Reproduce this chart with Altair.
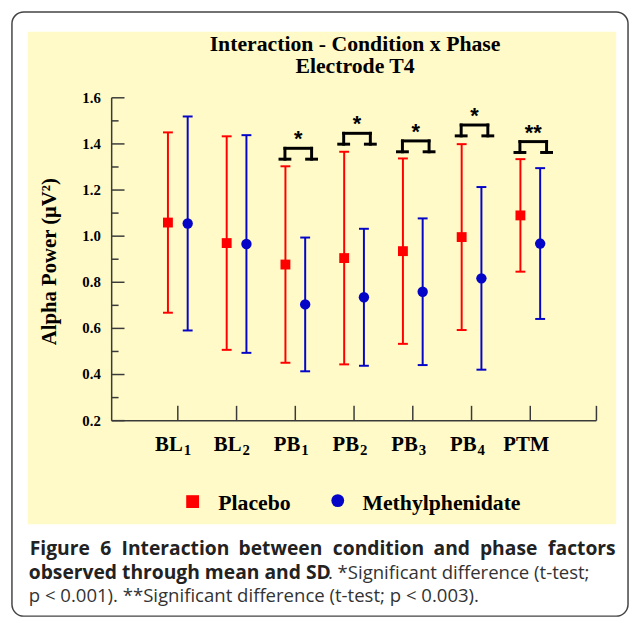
import altair as alt
import pandas as pd

# ---------------- data ----------------
phase_main = ["BL", "BL", "PB", "PB", "PB", "PB", "PTM"]
phase_sub = ["1", "2", "1", "2", "3", "4", ""]
conditions = ["Placebo", "Methylphenidate"]
cond_colors = ["#FF0000", "#0505C8"]

placebo_mean = [1.059, 0.970, 0.877, 0.905, 0.935, 0.996, 1.090]
placebo_sd = [0.391, 0.463, 0.426, 0.461, 0.402, 0.403, 0.244]
mph_mean = [1.055, 0.966, 0.704, 0.735, 0.759, 0.817, 0.968]
mph_sd = [0.464, 0.472, 0.290, 0.297, 0.318, 0.396, 0.327]

sig_index = [2, 3, 4, 5, 6]
sig_marks = ["*", "*", "*", "*", "**"]
bracket_top = [1.381, 1.446, 1.413, 1.482, 1.410]

y_major = [0.2, 0.4, 0.6, 0.8, 1.0, 1.2, 1.4, 1.6]
y_minor = [0.3, 0.5, 0.7, 0.9, 1.1, 1.3, 1.5]

title_text = "Interaction - Condition x Phase\nElectrode T4"
y_title = "Alpha Power (\u03bcV\u00b2)"
cap1_words = ["Figure", "6", "Interaction", "between", "condition", "and", "phase", "factors"]
cap2_bold = "observed through mean and SD"
cap2_reg = ". *Significant difference (t-test;"
cap3 = "p < 0.001). **Significant difference (t-test; p < 0.003)."

# justified word starts of caption line 1 (page px)
cap1_word_left = [30, 101.5, 123, 241.5, 337, 439, 486, 555]

# ---------------- geometry helpers ----------------
W, H = 491, 327
X0, X1 = -1.126, 7.126
Y0, Y1 = 0.2, 1.6
PXX = W / (X1 - X0)
PXY = H / (Y1 - Y0)
LEFT, TOP = 105, 87  # padding => page coordinates offset 8 more
PAGE_X = LEFT + 8


def ux(px):
    return px / PXX


def uy(px):
    return px / PXY


n = len(phase_main)
rows = []
for i in range(n):
    for cond, means, sds, off in (("Placebo", placebo_mean, placebo_sd, -10),
                                  ("Methylphenidate", mph_mean, mph_sd, 10)):
        xc = i + ux(off)
        rows.append(dict(cond=cond, x=xc, xl=xc - ux(5), xr=xc + ux(5),
                         mean=means[i], lo=means[i] - sds[i], hi=means[i] + sds[i]))
df = pd.DataFrame(rows)

seg = []
stars = []
leg_h = uy(11)
for k, i in enumerate(sig_index):
    c = i + ux(3)
    t = bracket_top[k]
    a, b = c - ux(13.5), c + ux(13.5)
    seg.append(dict(x=a, x2=b, y=t, y2=t))
    for leg in (a, b):
        seg.append(dict(x=leg, x2=leg, y=t, y2=t - leg_h))
        seg.append(dict(x=leg - ux(5), x2=leg + ux(5), y=t - leg_h, y2=t - leg_h))
    stars.append(dict(x=c, y=t, s=sig_marks[k]))
seg_df = pd.DataFrame(seg)
star_df = pd.DataFrame(stars)

lab_df = pd.DataFrame(dict(i=list(range(n)), main=phase_main, sub=phase_sub))
lab_df["xa"] = lab_df["i"] + ux(5)
lab_df["xc"] = lab_df["i"] + ux(-4)

xt_df = pd.DataFrame(dict(v=list(range(n)) + [X1]))
ymaj_df = pd.DataFrame(dict(v=y_major))
ymin_df = pd.DataFrame(dict(v=y_minor))
one = pd.DataFrame(dict(a=[0]))

xs = alt.Scale(domain=[X0, X1], nice=False, zero=False)
ys = alt.Scale(domain=[Y0, Y1], nice=False, zero=False)
cs = alt.Scale(domain=conditions, range=cond_colors)

SERIF = "Liberation Serif"
SANS = "Open Sans"
AX = "#3a3a3a"

# ---------------- frame ----------------
border = alt.Chart(one).mark_rect(fill="white", stroke="#444", strokeWidth=1.5,
                                  cornerRadius=12).encode(
    x=alt.value(-101), x2=alt.value(523), y=alt.value(-87), y2=alt.value(525))
panel = alt.Chart(one).mark_rect(fill="#FFFAC8").encode(
    x=alt.value(-85), x2=alt.value(511), y=alt.value(-67), y2=alt.value(432))

# ---------------- axes ----------------
yline = alt.Chart(one).mark_rule(color=AX, strokeWidth=1.5).encode(
    x=alt.value(0), y=alt.value(0), y2=alt.value(H))
xline = alt.Chart(one).mark_rule(color=AX, strokeWidth=1.5).encode(
    x=alt.value(0), x2=alt.value(W), y=alt.value(H))
ymaj = alt.Chart(ymaj_df).mark_rule(color=AX, strokeWidth=1.5).encode(
    y=alt.Y("v:Q", scale=ys, axis=None), x=alt.value(0), x2=alt.value(13))
ymin = alt.Chart(ymin_df).mark_rule(color=AX, strokeWidth=1.5).encode(
    y=alt.Y("v:Q", scale=ys, axis=None), x=alt.value(0), x2=alt.value(7))
ylab = alt.Chart(ymaj_df).mark_text(align="right", baseline="middle", font=SERIF,
                                    fontWeight="bold", fontSize=15, color="black").encode(
    y=alt.Y("v:Q", scale=ys, axis=None), x=alt.value(-11),
    text=alt.Text("v:Q", format=".1f"))
xticks = alt.Chart(xt_df).mark_rule(color=AX, strokeWidth=1.5).encode(
    x=alt.X("v:Q", scale=xs, axis=None), y=alt.value(H), y2=alt.value(H - 15))

lab_sub = alt.Chart(lab_df).transform_filter("datum.sub != ''")
xlab_main = lab_sub.mark_text(align="right", baseline="alphabetic", font=SERIF,
                              fontWeight="bold", fontSize=21, color="black").encode(
    x=alt.X("xa:Q", scale=xs, axis=None), y=alt.value(358), text="main:N")
xlab_sub = lab_sub.mark_text(align="left", baseline="alphabetic", font=SERIF,
                             fontWeight="bold", fontSize=15, color="black", dx=1).encode(
    x=alt.X("xa:Q", scale=xs, axis=None), y=alt.value(362), text="sub:N")
xlab_c = alt.Chart(lab_df).transform_filter("datum.sub == ''").mark_text(
    align="center", baseline="alphabetic", font=SERIF, fontWeight="bold",
    fontSize=21, color="black").encode(
    x=alt.X("xc:Q", scale=xs, axis=None), y=alt.value(358), text="main:N")

ytitle = alt.Chart(one).mark_text(angle=270, align="center", baseline="middle",
                                  font=SERIF, fontWeight="bold", fontSize=21,
                                  color="black").encode(
    x=alt.value(-62), y=alt.value(166), text=alt.value(y_title))
title = alt.Chart(one).mark_text(align="center", baseline="alphabetic", font=SERIF,
                                 fontWeight="bold", fontSize=22, lineBreak="\n",
                                 lineHeight=22, color="black").encode(
    x=alt.value(W / 2 + 1), y=alt.value(-47), text=alt.value(title_text))

# ---------------- data marks ----------------
base = alt.Chart(df)
err = base.mark_rule(strokeWidth=2).encode(
    x=alt.X("x:Q", scale=xs, axis=None), y=alt.Y("lo:Q", scale=ys, axis=None),
    y2="hi:Q", color=alt.Color("cond:N", scale=cs, legend=None))
cap_lo = base.mark_rule(strokeWidth=2).encode(
    x=alt.X("xl:Q", scale=xs, axis=None), x2="xr:Q",
    y=alt.Y("lo:Q", scale=ys, axis=None),
    color=alt.Color("cond:N", scale=cs, legend=None))
cap_hi = base.mark_rule(strokeWidth=2).encode(
    x=alt.X("xl:Q", scale=xs, axis=None), x2="xr:Q",
    y=alt.Y("hi:Q", scale=ys, axis=None),
    color=alt.Color("cond:N", scale=cs, legend=None))
pts_p = base.transform_filter("datum.cond == 'Placebo'").mark_point(
    shape="square", filled=True, size=100, opacity=1).encode(
    x=alt.X("x:Q", scale=xs, axis=None), y=alt.Y("mean:Q", scale=ys, axis=None),
    color=alt.Color("cond:N", scale=cs, legend=None))
pts_m = base.transform_filter("datum.cond == 'Methylphenidate'").mark_point(
    shape="circle", filled=True, size=110, opacity=1).encode(
    x=alt.X("x:Q", scale=xs, axis=None), y=alt.Y("mean:Q", scale=ys, axis=None),
    color=alt.Color("cond:N", scale=cs, legend=None))

brackets = alt.Chart(seg_df).mark_rule(color="black", strokeWidth=3,
                                       strokeCap="square").encode(
    x=alt.X("x:Q", scale=xs, axis=None), x2="x2:Q",
    y=alt.Y("y:Q", scale=ys, axis=None), y2="y2:Q")
star_txt = alt.Chart(star_df).mark_text(font="Liberation Sans", fontWeight="bold",
                                        fontSize=22, baseline="alphabetic",
                                        align="center", color="black", dy=-2).encode(
    x=alt.X("x:Q", scale=xs, axis=None), y=alt.Y("y:Q", scale=ys, axis=None),
    text="s:N")

# ---------------- legend ----------------
leg_sq = alt.Chart(one).mark_point(shape="square", filled=True, size=169, opacity=1,
                                   color=cond_colors[0]).encode(
    x=alt.value(82), y=alt.value(409))
leg_ci = alt.Chart(one).mark_point(shape="circle", filled=True, size=169, opacity=1,
                                   color=cond_colors[1]).encode(
    x=alt.value(229), y=alt.value(408))
leg_t1 = alt.Chart(one).mark_text(align="left", baseline="alphabetic", font=SERIF,
                                  fontWeight="bold", fontSize=22, color="black").encode(
    x=alt.value(108), y=alt.value(418), text=alt.value(conditions[0]))
leg_t2 = alt.Chart(one).mark_text(align="left", baseline="alphabetic", font=SERIF,
                                  fontWeight="bold", fontSize=22, color="black").encode(
    x=alt.value(254), y=alt.value(418), text=alt.value(conditions[1]))

# ---------------- caption ----------------
words_df = pd.DataFrame(dict(w=cap1_words,
                             xd=[X0 + ux(p - PAGE_X) for p in cap1_word_left]))
c1 = alt.Chart(words_df).mark_text(align="left", baseline="alphabetic", font=SANS,
                                   fontWeight="bold", fontSize=19.5, color="#222").encode(
    x=alt.X("xd:Q", scale=xs, axis=None),
    y=alt.value(463), text="w:N")
c2a = alt.Chart(one).mark_text(align="left", baseline="alphabetic", font=SANS,
                               fontWeight="bold", fontSize=19.5, color="#222").encode(
    x=alt.value(-84), y=alt.value(487), text=alt.value(cap2_bold))
c2b = alt.Chart(one).mark_text(align="left", baseline="alphabetic", font=SANS,
                               fontSize=18.8, color="#333").encode(
    x=alt.value(219), y=alt.value(487), text=alt.value(cap2_reg))
c3 = alt.Chart(one).mark_text(align="left", baseline="alphabetic", font=SANS,
                              fontSize=18.8, color="#333").encode(
    x=alt.value(-84), y=alt.value(511), text=alt.value(cap3))

chart = alt.layer(
    border, panel,
    yline, xline, ymaj, ymin, ylab, xticks, xlab_main, xlab_sub, xlab_c,
    ytitle, title,
    err, cap_lo, cap_hi, pts_p, pts_m, brackets, star_txt,
    leg_sq, leg_ci, leg_t1, leg_t2,
    c1, c2a, c2b, c3,
).properties(
    width=W, height=H,
    padding={"left": LEFT, "top": TOP, "right": 34, "bottom": 201},
    autosize=alt.AutoSizeParams(type="none"),
    background="white",
).configure_view(stroke=None)

chart.save("out.html", embed_options={"renderer": "svg", "actions": False})
